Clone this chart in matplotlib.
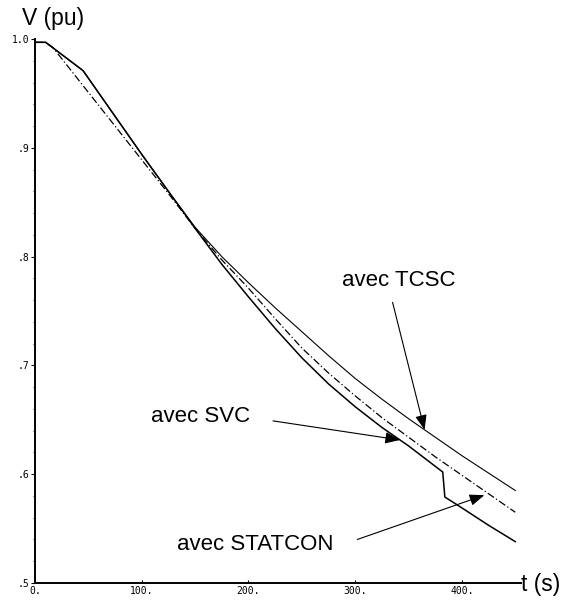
import matplotlib
matplotlib.use('Agg')
import matplotlib.pyplot as plt
import numpy as np

# temps (s) et tension (pu)
t_tcsc = [0, 10, 45, 100, 125, 150, 175, 200, 225, 250, 275, 300, 325, 350, 375, 400, 425, 450]
v_tcsc = [0.997, 0.997, 0.971, 0.894, 0.860, 0.827, 0.800, 0.776, 0.753, 0.731, 0.709,
          0.688, 0.669, 0.651, 0.634, 0.617, 0.601, 0.585]

t_svc = [0, 10, 45, 100, 125, 150, 175, 200, 225, 250, 275, 300, 325, 350, 382, 384, 400, 425, 450]
v_svc = [0.997, 0.997, 0.971, 0.894, 0.860, 0.826, 0.793, 0.763, 0.734, 0.707, 0.683,
         0.662, 0.643, 0.626, 0.602, 0.579, 0.569, 0.553, 0.538]

t_statcon = [0, 10, 17, 50, 100, 125, 150, 175, 200, 225, 250, 275, 300, 325, 350, 375, 400, 425, 450]
v_statcon = [0.997, 0.997, 0.992, 0.951, 0.889, 0.858, 0.826, 0.797, 0.771, 0.743, 0.716,
             0.693, 0.672, 0.652, 0.634, 0.616, 0.599, 0.582, 0.565]

xticks = [0, 100, 200, 300, 400]
xlabels = ['0.', '100.', '200.', '300.', '400.']
yticks = [0.5, 0.6, 0.7, 0.8, 0.9, 1.0]
ylabels = ['.5', '.6', '.7', '.8', '.9', '1.0']

fig = plt.figure(figsize=(5.72, 6.01), dpi=100)
ax = fig.add_axes([0.0612, 0.030, 0.849, 0.905])

ax.plot(t_tcsc, v_tcsc, color='black', lw=0.8)
ax.plot(t_statcon, v_statcon, color='black', lw=0.9, linestyle=(0, (6, 2, 1, 2)))
ax.plot(t_svc, v_svc, color='black', lw=1.1)

ax.set_xlim(0, 455)
ax.set_ylim(0.5, 1.0)
for s in ['top', 'right']:
    ax.spines[s].set_visible(False)
ax.spines['left'].set_linewidth(1.4)
ax.spines['bottom'].set_linewidth(1.4)

mono = 'DejaVu Sans Mono'
ax.set_xticks(xticks, xlabels, fontsize=7, family=mono)
ax.set_yticks(yticks, ylabels, fontsize=7, family=mono)
ax.tick_params(axis='y', direction='out', length=3, width=0.8, pad=1)
ax.tick_params(axis='x', direction='in', length=2, width=0.8, pad=2)
ax.set_yticks(np.arange(0.5, 1.0, 0.02), minor=True)
ax.tick_params(axis='y', which='minor', direction='out', length=1.2, width=0.5)

fnt = 'Liberation Sans'
fig.text(22 / 572, 1 - 19 / 601, 'V (pu)', fontsize=16.5, family=fnt, ha='left', va='center')
fig.text(521 / 572, 1 - 584 / 601, 't (s)', fontsize=16.5, family=fnt, ha='left', va='center')

ax.text(341, 0.778, 'avec TCSC', fontsize=16, family=fnt, ha='center', va='center')
ax.text(155, 0.653, 'avec SVC', fontsize=16, family=fnt, ha='center', va='center')
ax.text(206, 0.535, 'avec STATCON', fontsize=16, family=fnt, ha='center', va='center')

aprops = dict(arrowstyle='-|>,head_length=0.9,head_width=0.35', color='black',
              lw=0.8, shrinkA=0, shrinkB=0)
ax.annotate('', xy=(365, np.interp(365, t_tcsc, v_tcsc)), xytext=(335, 0.758), arrowprops=aprops)
ax.annotate('', xy=(342, np.interp(342, t_svc, v_svc)), xytext=(223, 0.649), arrowprops=aprops)
ax.annotate('', xy=(421, np.interp(421, t_statcon, v_statcon) - 0.004), xytext=(302, 0.540),
            arrowprops=aprops)

fig.savefig('out.png', dpi=100)
